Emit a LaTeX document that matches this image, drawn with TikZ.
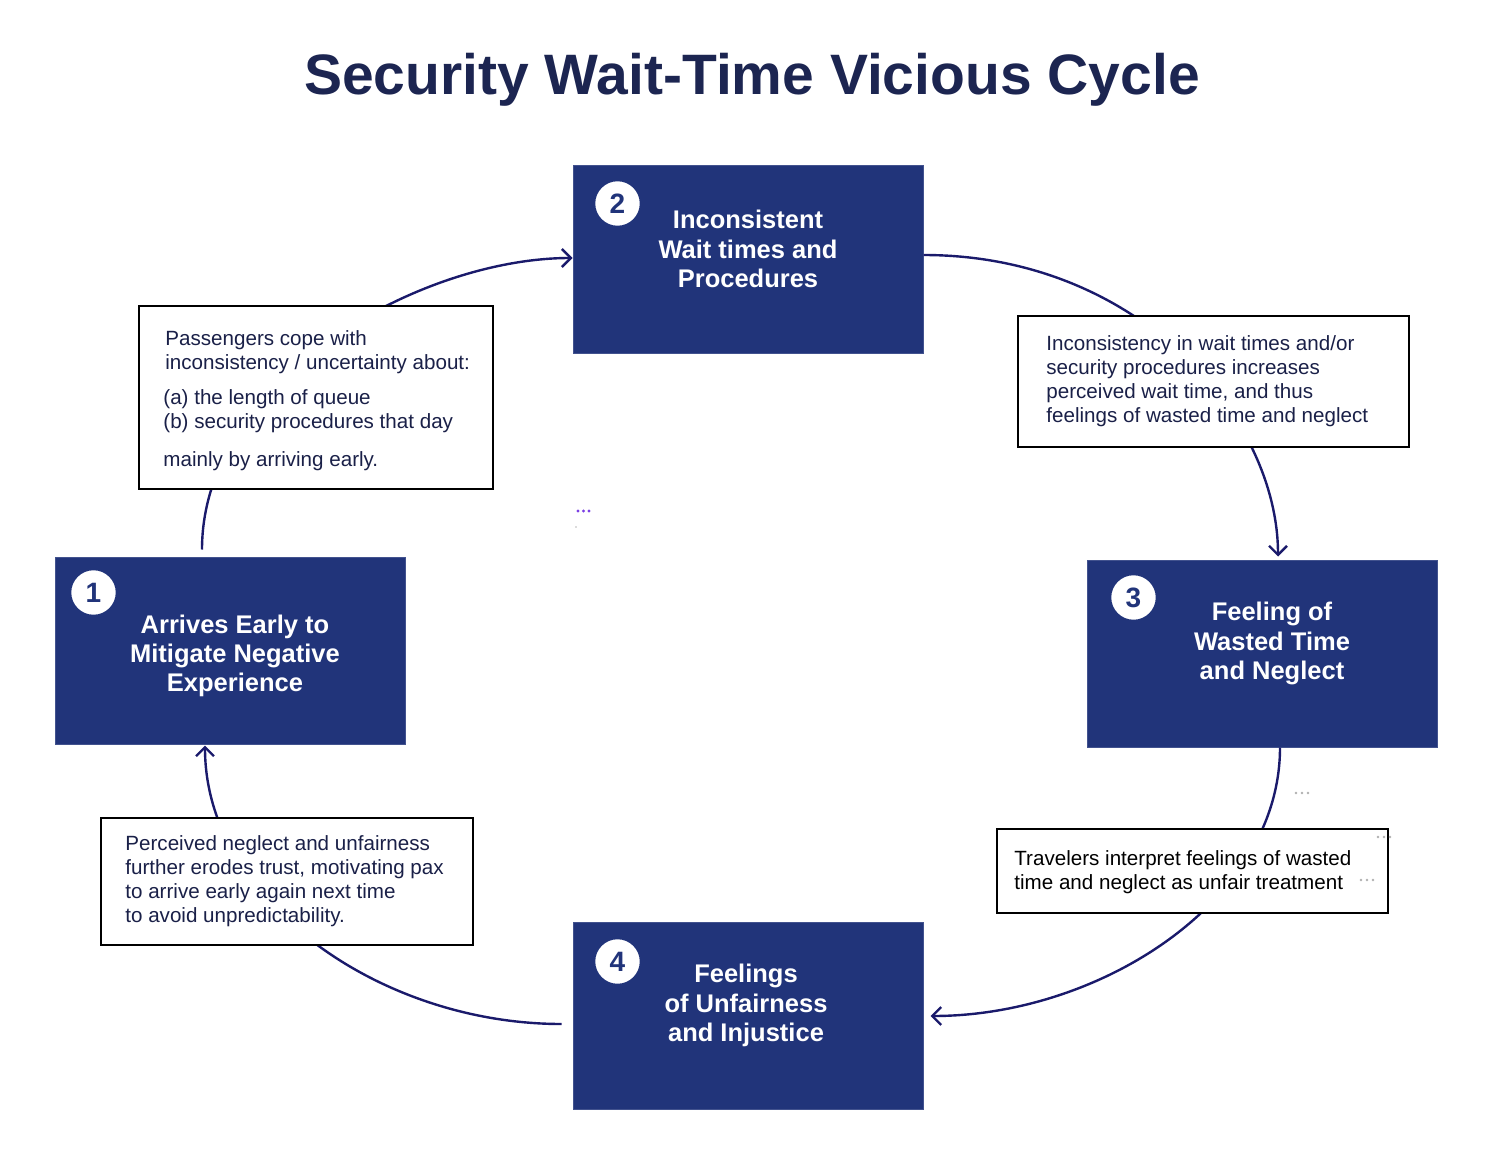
\documentclass[tikz,border=0pt]{standalone}
\usepackage{fontspec}
\setmainfont{Liberation Sans}
\usetikzlibrary{arrows.meta,calc}
\definecolor{boxblue}{RGB}{33,52,122}
\definecolor{linkc}{RGB}{26,26,107}
\definecolor{titlec}{RGB}{28,37,81}
\definecolor{notec}{RGB}{26,32,72}
\definecolor{dotp}{RGB}{123,63,228}
\definecolor{dotg}{RGB}{176,176,176}
\begin{document}
\begin{tikzpicture}[x=0.5pt,y=-0.5pt,
 bigbox/.style={rectangle, fill=boxblue, draw=boxblue!85!white, line width=0.5pt, minimum width=175pt, minimum height=93.5pt, inner sep=0pt},
 boxtext/.style={text=white, font=\fontsize{12.75}{14.7}\selectfont\bfseries, align=center, inner sep=0pt},
 numc/.style={circle, fill=white, draw=boxblue, line width=0.75pt, minimum size=23pt, inner sep=0pt, text=boxblue, font=\fontsize{14}{14}\selectfont\bfseries},
 notebox/.style={rectangle, fill=white, draw=black, line width=1pt, inner sep=0pt},
 notetext/.style={anchor=west, align=left, inner sep=0pt, font=\fontsize{10.3}{12}\selectfont, text=notec},
 link/.style={draw=linkc, line width=1.2pt},
 arr/.style={link, -{Straight Barb[length=4.5pt,width=9pt]}},
 ]
\useasboundingbox (0,0) rectangle (1494,1172);

% title
\node[font=\fontsize{28.5}{32}\selectfont\bfseries, text=titlec] (title) at (752,80) {Security Wait-Time Vicious Cycle};

% main boxes
\node[bigbox] (b1) at (230,650.5) {};
\node[bigbox] (b2) at (748,259.5) {};
\node[bigbox] (b3) at (1262,653.5) {};
\node[bigbox] (b4) at (748,1015.5) {};

\node[boxtext] (t1) at (235,656) {Arrives Early to\\Mitigate Negative\\Experience};
\node[boxtext] (t2) at (748,249) {Inconsistent\\Wait times and\\Procedures};
\node[boxtext] (t3) at (1272,643.5) {Feeling of\\Wasted Time\\and Neglect};
\node[boxtext] (t4) at (746,1005.5) {Feelings\\of Unfairness\\and Injustice};

\node[numc] (c1) at ($(b1.north west)+(39,36)$) {1};
\node[numc] (c2) at ($(b2.north west)+(45,38)$) {2};
\node[numc] (c3) at ($(b3.north west)+(47,38)$) {3};
\node[numc] (c4) at ($(b4.north west)+(45,40)$) {4};

% connectors
\draw[arr] ($(b1.north)+(-28,-7)$) .. controls +(0,-170) and +(-153,0) .. ($(b2.west)+(0,-1.5)$);
\draw[arr] ($(b2.east)+(0,-4.5)$) .. controls +(217,0) and +(0,-137) .. ($(b3.north)+(16,-3)$);
\draw[arr] ($(b3.south)+(18,0)$) .. controls +(0,153) and +(170,0) .. ($(b4.east)+(7,0.5)$);
\draw[arr] ($(b4.west)+(-11,8.5)$) .. controls +(-182,0) and +(0,155) .. ($(b1.south)+(-25,1)$);

% notes
\node[notebox, minimum width=177pt, minimum height=91.5pt] (n1) at (316,397.5) {};
\node[notetext] (n1t) at ($(n1.west)+(27,3)$) {Passengers cope with\\inconsistency / uncertainty about:\\[5.5pt]\hspace*{-1pt}(a) the length of queue\\\hspace*{-1pt}(b) security procedures that day\\[7pt]\hspace*{-1pt}mainly by arriving early.};

\node[notebox, minimum width=195.5pt, minimum height=65.5pt] (n2) at (1213.5,381.5) {};
\node[notetext] (n2t) at ($(n2.west)+(29,0)$) {Inconsistency in wait times and/or\\security procedures increases\\perceived wait time, and thus\\feelings of wasted time and neglect};

\node[notebox, minimum width=195.5pt, minimum height=42pt] (n3) at (1192.5,871) {};
\node[notetext, text=black] (n3t) at ($(n3.west)+(18,1)$) {Travelers interpret feelings of wasted\\time and neglect as unfair treatment};

\node[notebox, minimum width=186pt, minimum height=63.5pt] (n4) at (287,881.5) {};
\node[notetext] (n4t) at ($(n4.west)+(25,0)$) {Perceived neglect and unfairness\\further erodes trust, motivating pax\\to arrive early again next time\\to avoid unpredictability.};

% stray dots
\foreach \x in {578,583.5,589} \fill[dotp] (\x,511) circle (0.8pt);
\fill[black!60] (576,527) circle (0.3pt);
\foreach \x in {1296,1302,1308} \fill[dotg] (\x,793) circle (0.7pt);
\foreach \x in {1378,1384,1390} \fill[dotg] (\x,837) circle (0.7pt);
\foreach \x in {1361,1367,1373} \fill[dotg] (\x,880) circle (0.7pt);
\end{tikzpicture}
\end{document}
